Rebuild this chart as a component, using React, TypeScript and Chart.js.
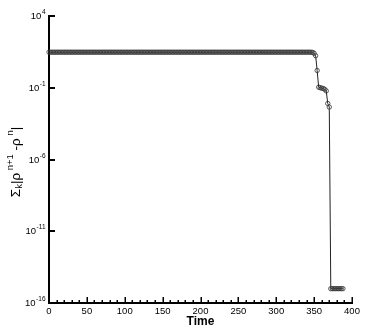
import React, { useEffect, useRef } from "react";
import { Chart, registerables } from "chart.js";

Chart.register(...registerables);

// Time of each sample
const times = [
  0, 2, 4, 6, 8, 10, 12, 14, 16, 18, 20, 22, 24, 26, 28, 30, 32, 34, 36, 38,
  40, 42, 44, 46, 48, 50, 52, 54, 56, 58, 60, 62, 64, 66, 68, 70, 72, 74, 76, 78,
  80, 82, 84, 86, 88, 90, 92, 94, 96, 98, 100, 102, 104, 106, 108, 110, 112, 114, 116, 118,
  120, 122, 124, 126, 128, 130, 132, 134, 136, 138, 140, 142, 144, 146, 148, 150, 152, 154, 156, 158,
  160, 162, 164, 166, 168, 170, 172, 174, 176, 178, 180, 182, 184, 186, 188, 190, 192, 194, 196, 198,
  200, 202, 204, 206, 208, 210, 212, 214, 216, 218, 220, 222, 224, 226, 228, 230, 232, 234, 236, 238,
  240, 242, 244, 246, 248, 250, 252, 254, 256, 258, 260, 262, 264, 266, 268, 270, 272, 274, 276, 278,
  280, 282, 284, 286, 288, 290, 292, 294, 296, 298, 300, 302, 304, 306, 308, 310, 312, 314, 316, 318,
  320, 322, 324, 326, 328, 330, 332, 334, 336, 338, 340, 342, 344, 346,
  348, 350, 352, 354, 356, 358, 360, 362, 364, 366, 368, 370,
  372, 374, 376, 378, 380, 382, 384, 386, 388,
];

// Residual sum |rho^{n+1} - rho^n|
const residual = [
  30, 30, 30, 30, 30, 30, 30, 30, 30, 30, 30, 30, 30, 30, 30, 30, 30, 30, 30, 30,
  30, 30, 30, 30, 30, 30, 30, 30, 30, 30, 30, 30, 30, 30, 30, 30, 30, 30, 30, 30,
  30, 30, 30, 30, 30, 30, 30, 30, 30, 30, 30, 30, 30, 30, 30, 30, 30, 30, 30, 30,
  30, 30, 30, 30, 30, 30, 30, 30, 30, 30, 30, 30, 30, 30, 30, 30, 30, 30, 30, 30,
  30, 30, 30, 30, 30, 30, 30, 30, 30, 30, 30, 30, 30, 30, 30, 30, 30, 30, 30, 30,
  30, 30, 30, 30, 30, 30, 30, 30, 30, 30, 30, 30, 30, 30, 30, 30, 30, 30, 30, 30,
  30, 30, 30, 30, 30, 30, 30, 30, 30, 30, 30, 30, 30, 30, 30, 30, 30, 30, 30, 30,
  30, 30, 30, 30, 30, 30, 30, 30, 30, 30, 30, 30, 30, 30, 30, 30, 30, 30, 30, 30,
  30, 30, 30, 30, 30, 30, 30, 30, 30, 30, 30, 30, 30, 30,
  29, 25, 17, 1.6, 0.11, 0.1, 0.095, 0.088, 0.078, 0.06, 0.008, 0.0045,
  1e-15, 1e-15, 1e-15, 1e-15, 1e-15, 1e-15, 1e-15, 1e-15, 1e-15,
];

const yTickValues = [1e4, 1e-1, 1e-6, 1e-11, 1e-16];
const yTickExponents = ["4", "-1", "-6", "-11", "-16"];
const xTickLabelStep = 50;
const xMinorStep = 10;

const FONT = "'Liberation Sans', Arial, Helvetica, sans-serif";

const decorPlugin = {
  id: "decor",
  afterDraw(chart: any) {
    const { ctx, chartArea } = chart;
    const xs = chart.scales.x;
    const ys = chart.scales.y;
    ctx.save();
    ctx.strokeStyle = "#000";
    ctx.fillStyle = "#000";
    // x ticks pointing inward
    ctx.lineWidth = 1.5;
    for (let v = xs.min; v <= xs.max + 1e-9; v += xMinorStep) {
      const px = Math.round(xs.getPixelForValue(v)) + 0.25;
      const major = Math.abs(v % xTickLabelStep) < 1e-9;
      const len = major ? 6 : 3;
      ctx.beginPath();
      ctx.moveTo(px, chartArea.bottom);
      ctx.lineTo(px, chartArea.bottom - len);
      ctx.stroke();
    }
    // y ticks pointing inward + labels
    ctx.lineWidth = 2;
    yTickValues.forEach((v, i) => {
      const py = Math.round(ys.getPixelForValue(v));
      ctx.beginPath();
      ctx.moveTo(chartArea.left, py);
      ctx.lineTo(chartArea.left + 6, py);
      ctx.stroke();
      const exp = yTickExponents[i];
      ctx.font = `6.5px ${FONT}`;
      const ew = ctx.measureText(exp).width;
      ctx.font = `9.5px ${FONT}`;
      const bw = ctx.measureText("10").width;
      const right = chartArea.left - 3.5;
      ctx.textBaseline = "middle";
      ctx.textAlign = "left";
      ctx.fillText("10", right - ew - bw - 0.5, py + 0.5);
      ctx.font = `6.5px ${FONT}`;
      ctx.fillText(exp, right - ew, py - 4);
    });
    // y axis title with sub/superscripts
    const parts: [string, number, number][] = [
      ["\u03A3", 13.5, 0],
      ["k", 9.5, 3.5],
      ["|\u03C1", 13.5, 0],
      [" n+1", 9.5, -5.5],
      [" -\u03C1", 13.5, 0],
      [" n", 9.5, -5.5],
      ["|", 13.5, 0],
    ];
    let total = 0;
    for (const [t, s] of parts) {
      ctx.font = `${s}px ${FONT}`;
      total += ctx.measureText(t).width;
    }
    ctx.translate(16, 162);
    ctx.rotate(-Math.PI / 2);
    let x = -total / 2;
    ctx.textBaseline = "middle";
    for (const [t, s, dy] of parts) {
      ctx.font = `${s}px ${FONT}`;
      ctx.fillText(t, x, dy);
      x += ctx.measureText(t).width;
    }
    ctx.restore();
  },
};

export default function App() {
  const ref = useRef<HTMLCanvasElement | null>(null);
  useEffect(() => {
    if (!ref.current) return;
    const chart = new Chart(ref.current, {
      type: "line",
      data: {
        datasets: [
          {
            data: times.map((t, i) => ({ x: t, y: residual[i] })),
            borderColor: "#222",
            borderWidth: 1,
            pointRadius: 2.2,
            pointBorderWidth: 0.8,
            pointBorderColor: "#333",
            pointBackgroundColor: "rgba(0,0,0,0)",
            pointStyle: "circle",
            tension: 0,
            clip: false,
          } as any,
        ],
      },
      options: {
        responsive: false,
        devicePixelRatio: 1,
        animation: false,
        layout: { padding: { top: 16, right: 22, left: 0, bottom: 0 } },
        plugins: {
          legend: { display: false },
          tooltip: { enabled: false },
        },
        scales: {
          x: {
            type: "linear",
            min: 0,
            max: 400,
            position: "bottom",
            grid: { display: false, drawTicks: false },
            border: { display: true, color: "#000", width: 2 },
            ticks: {
              stepSize: xTickLabelStep,
              color: "#000",
              padding: 3,
              maxRotation: 0,
              font: { size: 9.5, family: FONT },
            },
            title: {
              display: true,
              text: "Time",
              color: "#000",
              padding: { top: 0, bottom: 3 },
              font: { size: 12, weight: "bold", family: FONT },
            },
            afterFit: (s: any) => {
              s.height = 29;
            },
          },
          y: {
            type: "logarithmic",
            min: 1e-16,
            max: 1e4,
            grid: { display: false, drawTicks: false },
            border: { display: true, color: "#000", width: 2 },
            ticks: { display: false },
            afterBuildTicks: (s: any) => {
              s.ticks = yTickValues.map((v) => ({ value: v }));
            },
            afterFit: (s: any) => {
              s.width = 49;
            },
          },
        },
      } as any,
      plugins: [decorPlugin],
    });
    return () => chart.destroy();
  }, []);
  return (
    <div style={{ position: "fixed", left: 0, top: 0, width: 374, height: 332, background: "#fff" }}>
      <canvas ref={ref} width={374} height={332} style={{ display: "block" }} />
    </div>
  );
}
